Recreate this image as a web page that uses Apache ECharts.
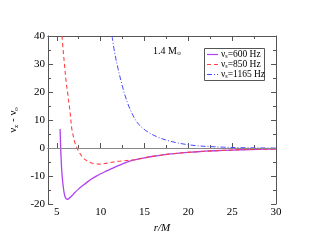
<!DOCTYPE html>
<html><head><meta charset="utf-8">
<script src="https://cdn.jsdelivr.net/npm/echarts@6/dist/echarts.min.js"></script>
<style>html,body{margin:0;padding:0;background:#fff}#c{width:311px;height:241px}</style>
</head><body><div id="c"></div>
<script>
const rTicks = [5, 10, 15, 20, 25, 30];
const rMinorTicks = [7.5, 12.5, 17.5, 22.5, 27.5];
const seriesNames = ['600 Hz', '850 Hz', '1165 Hz'];
const purple600 = [[5.37,6.8],[5.42,2],[5.48,-3],[5.55,-7.5],[5.65,-11.5],[5.75,-14.3],[5.85,-16.3],[5.95,-17.5],[6.05,-18.1],[6.15,-18.3],[6.27,-18.25],[6.4,-18.0],[6.6,-17.4],[6.8,-16.8],[7.0,-16.1],[7.5,-14.6],[8.0,-13.3],[8.5,-12.1],[9.0,-11.0],[9.5,-10.05],[10.0,-9.2],[10.5,-8.45],[11.0,-7.75],[11.5,-7.0],[12.0,-6.3],[12.5,-5.65],[13.0,-5.05],[13.5,-4.55],[14.0,-4.15],[14.5,-3.8],[15.0,-3.5],[16,-2.95],[17,-2.5],[18,-2.1],[19,-1.8],[20,-1.55],[22,-1.15],[24,-0.85],[26,-0.62],[28,-0.47],[30,-0.36]];
const red850 = [[5.59,40],[5.72,35],[5.88,29.6],[6.05,24],[6.24,19.5],[6.52,12.5],[6.7,7.0],[6.9,4.0],[7.1,1.5],[7.3,0],[7.6,-1.8],[8.0,-3.5],[8.4,-4.5],[8.9,-5.3],[9.4,-5.65],[9.9,-5.75],[10.5,-5.55],[11.3,-5.1],[12.0,-4.75],[13.0,-4.45],[14.0,-4.15],[14.5,-3.8],[15.0,-3.5],[16,-2.95],[17,-2.5],[18,-2.1],[19,-1.8],[20,-1.55],[22,-1.15],[24,-0.85],[26,-0.62],[28,-0.47],[30,-0.36]];
const blue1165 = [[11.3,40],[11.6,34],[12.0,28.1],[12.4,23],[12.74,19.2],[13.2,15],[13.83,10.8],[14.3,8.6],[14.9,6.8],[15.5,5.5],[16.35,4.1],[17.4,2.9],[18.5,2.0],[19.6,1.35],[21,0.8],[22.5,0.5],[24,0.3],[26,0.12],[28,0.03],[30,0.0]];

const axisColor = '#555';
const font = "'Liberation Serif', 'Times New Roman', serif";
const colors = ['#b040f0', '#ff4040', '#4848ff'];
const dashes = ['solid', [4, 3], [5, 2, 1, 2]];
const chart = echarts.init(document.getElementById('c'));
const baseX = {type:'value', min:4, max:30, axisLine:{show:true,lineStyle:{color:axisColor,width:1}}, splitLine:{show:false}};
const legendRich = {n:{fontFamily:font,fontSize:9.5,fill:'#000'}, s:{fontFamily:font,fontSize:6,fill:'#000',verticalAlign:'bottom',padding:[4,0,0,0]}};
const legendGraphics = [{type:'rect', shape:{x:204.5,y:48.5,width:60,height:32}, style:{fill:'#fff',stroke:'#555',lineWidth:1}, z:100}];
seriesNames.forEach(function(nm, i){
  const y = 54.5 + i * 10;
  legendGraphics.push({type:'line', shape:{x1:207,y1:y,x2:218,y2:y}, style:{stroke:colors[i], lineWidth:1.2, lineDash: dashes[i] === 'solid' ? null : dashes[i]}, z:101});
  legendGraphics.push({type:'text', x:221, y:y, style:{rich:legendRich, text:'{n|ν}{s|s}{n|=' + nm + '}', verticalAlign:'middle'}, z:101});
});
chart.setOption({
  animation:false,
  grid:{left:36,right:35,top:36,bottom:37},
  xAxis:[
    Object.assign({}, baseX, {position:'bottom', axisTick:{show:true,inside:true,length:5,customValues:rTicks,lineStyle:{color:axisColor}},
      axisLabel:{show:true,customValues:rTicks,margin:3,fontFamily:font,fontSize:11,color:'#000'},
      name:'r/M', nameLocation:'middle', nameGap:10, nameTextStyle:{fontFamily:font,fontStyle:'italic',fontSize:11,color:'#000'}}),
    Object.assign({}, baseX, {position:'bottom', axisTick:{show:true,inside:true,length:3,customValues:rMinorTicks,lineStyle:{color:axisColor}}, axisLabel:{show:false}}),
    Object.assign({}, baseX, {position:'top', axisTick:{show:true,inside:true,length:5,customValues:rTicks,lineStyle:{color:axisColor}}, axisLabel:{show:false}}),
    Object.assign({}, baseX, {position:'top', axisTick:{show:true,inside:true,length:3,customValues:rMinorTicks,lineStyle:{color:axisColor}}, axisLabel:{show:false}})
  ],
  yAxis:[
    {type:'value', position:'left', min:-20, max:40, interval:10,
      axisLine:{show:true,lineStyle:{color:axisColor}}, splitLine:{show:false},
      axisTick:{show:true,inside:true,length:5,lineStyle:{color:axisColor}},
      minorTick:{show:true,splitNumber:2,length:3,lineStyle:{color:axisColor}},
      axisLabel:{margin:3,fontFamily:font,fontSize:11,color:'#000'},
      name:'{n|ν}{s|z}{n| - ν}{s|o}', nameLocation:'middle', nameRotate:90, nameGap:17,
      nameTextStyle:{rich:{n:{fontFamily:font,fontSize:11,color:'#000'}, s:{fontFamily:font,fontSize:7,color:'#000',verticalAlign:'bottom',padding:[5,0,0,0]}}}},
    {type:'value', position:'right', min:-20, max:40, interval:10,
      axisLine:{show:true,lineStyle:{color:axisColor}}, splitLine:{show:false},
      axisTick:{show:true,inside:true,length:5,lineStyle:{color:axisColor}},
      minorTick:{show:true,splitNumber:2,length:3,lineStyle:{color:axisColor}},
      axisLabel:{show:false}}
  ],
  graphic:[{type:'text', left:153, top:46, style:{rich:{n:{fontFamily:font,fontSize:10,fill:'#000'}, s:{fontFamily:"'DejaVu Sans', sans-serif",fontSize:5,fill:'#000',verticalAlign:'bottom',padding:[4,0,0,0]}}, text:'{n|1.4 M}{s|⊙}'}}].concat(legendGraphics),
  series:[
    {name:seriesNames[0], type:'line', data:purple600, symbol:'none', smooth:0.35, lineStyle:{color:colors[0],width:1.3}, itemStyle:{color:colors[0]},
      markLine:{silent:true, symbol:'none', label:{show:false}, lineStyle:{color:'#888',width:1,type:'solid'}, data:[{yAxis:0}]}},
    {name:seriesNames[1], type:'line', data:red850, symbol:'none', smooth:0.35, lineStyle:{color:colors[1],width:1.1,type:dashes[1]}, itemStyle:{color:colors[1]}},
    {name:seriesNames[2], type:'line', data:blue1165, symbol:'none', smooth:0.35, lineStyle:{color:colors[2],width:1,type:dashes[2]}, itemStyle:{color:colors[2]}}
  ]
});
</script></body></html>
